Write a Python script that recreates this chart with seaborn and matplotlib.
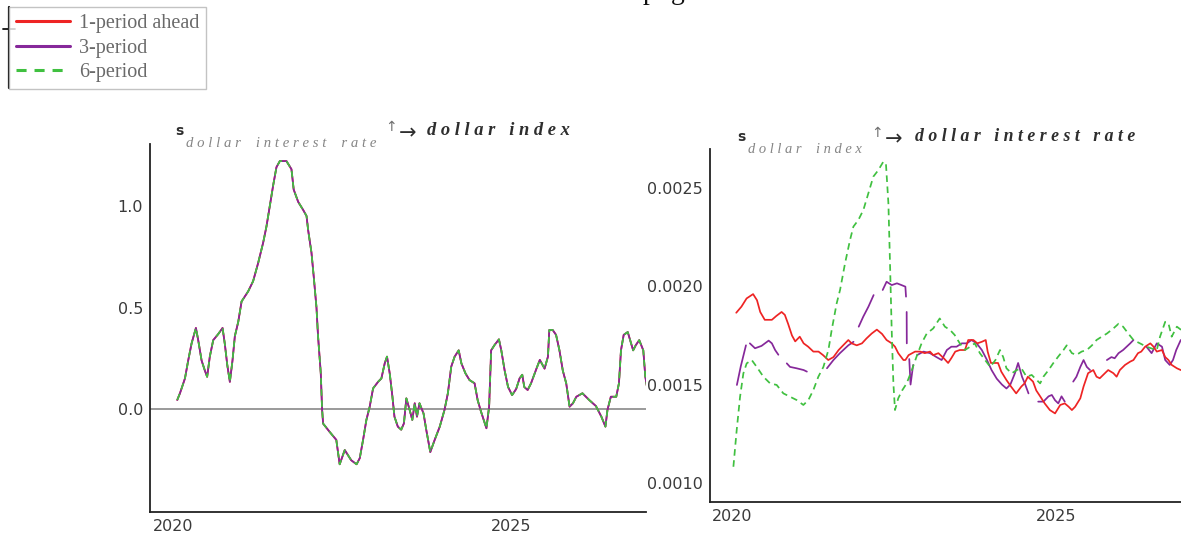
import matplotlib
matplotlib.use("Agg")
import pandas as pd
import matplotlib.pyplot as plt
import seaborn as sns
from matplotlib.lines import Line2D
from matplotlib.ticker import MultipleLocator

sns.set_style("white")
plt.rcParams["font.family"] = ["DejaVu Sans"]

W, H, DPI = 1181, 539, 100

# ---------------------------------------------------------------------------
# Spillover of a dollar-interest-rate shock onto the dollar index
# (1-, 3- and 6-period horizons coincide in this panel)
# ---------------------------------------------------------------------------
rate_to_index_years = [
    2020.068, 2020.108, 2020.182, 2020.231, 2020.280, 2020.344, 2020.378, 2020.428,
    2020.477, 2020.510, 2020.550, 2020.600, 2020.674, 2020.738, 2020.772, 2020.807,
    2020.846, 2020.885, 2020.920, 2020.970, 2021.019, 2021.117, 2021.190, 2021.265,
    2021.339, 2021.388, 2021.437, 2021.486, 2021.535, 2021.585, 2021.683, 2021.757,
    2021.790, 2021.856, 2021.930, 2021.980, 2022.004, 2022.053, 2022.087, 2022.127,
    2022.150, 2022.190, 2022.210, 2022.225, 2022.320, 2022.420, 2022.470, 2022.545,
    2022.640, 2022.720, 2022.767, 2022.816, 2022.865, 2022.914, 2022.964, 2023.040,
    2023.087, 2023.136, 2023.170, 2023.210, 2023.250, 2023.280, 2023.330, 2023.380,
    2023.420, 2023.456, 2023.505, 2023.544, 2023.580, 2023.613, 2023.650, 2023.710,
    2023.750, 2023.810, 2023.875, 2023.950, 2024.020, 2024.070, 2024.120, 2024.170,
    2024.230, 2024.270, 2024.330, 2024.390, 2024.465, 2024.510, 2024.560, 2024.640,
    2024.680, 2024.710, 2024.760, 2024.825, 2024.860, 2024.910, 2024.960, 2025.020,
    2025.080, 2025.130, 2025.170, 2025.200, 2025.250, 2025.300, 2025.380, 2025.430,
    2025.500, 2025.550, 2025.570, 2025.620, 2025.670, 2025.720, 2025.770, 2025.820,
    2025.870, 2025.920, 2025.970, 2026.060, 2026.160, 2026.260, 2026.340, 2026.400,
    2026.430, 2026.480, 2026.560, 2026.600, 2026.630, 2026.670, 2026.730, 2026.780,
    2026.810, 2026.850, 2026.900, 2026.960, 2026.990, 2027.020,
]
rate_to_index_values = [
    0.046, 0.079, 0.152, 0.242, 0.324, 0.400, 0.340, 0.240,
    0.190, 0.160, 0.260, 0.340, 0.370, 0.400, 0.320, 0.220,
    0.135, 0.240, 0.360, 0.430, 0.530, 0.580, 0.630, 0.720,
    0.820, 0.900, 1.000, 1.100, 1.190, 1.220, 1.220, 1.180,
    1.080, 1.020, 0.980, 0.950, 0.880, 0.770, 0.650, 0.500,
    0.360, 0.180, 0.000, -0.070, -0.110, -0.150, -0.270, -0.200,
    -0.250, -0.270, -0.240, -0.150, -0.052, 0.013, 0.103, 0.136,
    0.152, 0.226, 0.259, 0.177, 0.062, -0.036, -0.085, -0.100,
    -0.069, 0.054, -0.003, -0.052, 0.030, -0.036, 0.030, -0.020,
    -0.100, -0.210, -0.150, -0.085, -0.003, 0.079, 0.210, 0.259,
    0.290, 0.226, 0.177, 0.144, 0.128, 0.046, -0.011, -0.093,
    0.013, 0.290, 0.316, 0.344, 0.290, 0.190, 0.110, 0.070,
    0.100, 0.152, 0.170, 0.110, 0.095, 0.128, 0.200, 0.243,
    0.200, 0.259, 0.390, 0.390, 0.366, 0.290, 0.190, 0.128,
    0.013, 0.030, 0.062, 0.079, 0.046, 0.016, -0.036, -0.085,
    -0.003, 0.062, 0.062, 0.128, 0.290, 0.366, 0.380, 0.324,
    0.290, 0.316, 0.340, 0.290, 0.160, 0.100,
]

# ---------------------------------------------------------------------------
# Spillover of a dollar-index shock onto the dollar interest rate
# ---------------------------------------------------------------------------
index_to_rate_1_years = [
    2020.07, 2020.15, 2020.23, 2020.33, 2020.39, 2020.44, 2020.51, 2020.62,
    2020.69, 2020.77, 2020.82, 2020.87, 2020.93, 2020.98, 2021.05, 2021.11,
    2021.18, 2021.26, 2021.34, 2021.41, 2021.49, 2021.57, 2021.65, 2021.72,
    2021.80, 2021.85, 2021.93, 2022.01, 2022.08, 2022.16, 2022.24, 2022.32,
    2022.39, 2022.47, 2022.52, 2022.57, 2022.65, 2022.68, 2022.73, 2022.83,
    2022.91, 2022.98, 2023.06, 2023.11, 2023.19, 2023.27, 2023.34, 2023.39,
    2023.45, 2023.52, 2023.60, 2023.65, 2023.73, 2023.79, 2023.86, 2023.92,
    2023.95, 2024.00, 2024.11, 2024.16, 2024.24, 2024.31, 2024.39, 2024.47,
    2024.52, 2024.57, 2024.65, 2024.70, 2024.76, 2024.83, 2024.91, 2024.99,
    2025.07, 2025.14, 2025.20, 2025.25, 2025.30, 2025.38, 2025.43, 2025.50,
    2025.58, 2025.63, 2025.68, 2025.76, 2025.81, 2025.89, 2025.94, 2025.99,
    2026.07, 2026.15, 2026.20, 2026.27, 2026.32, 2026.38, 2026.46, 2026.51,
    2026.56, 2026.64, 2026.69, 2026.74, 2026.79, 2026.87, 2026.93, 2027.00,
]
index_to_rate_1_values = [
    0.001866, 0.001897, 0.001939, 0.001961, 0.001930, 0.001870, 0.001830, 0.001830,
    0.001850, 0.001870, 0.001855, 0.001810, 0.001750, 0.001720, 0.001744, 0.001710,
    0.001693, 0.001668, 0.001668, 0.001650, 0.001625, 0.001640, 0.001676, 0.001700,
    0.001727, 0.001710, 0.001700, 0.001710, 0.001735, 0.001760, 0.001780, 0.001758,
    0.001727, 0.001710, 0.001693, 0.001660, 0.001625, 0.001625, 0.001650, 0.001668,
    0.001668, 0.001660, 0.001668, 0.001650, 0.001660, 0.001635, 0.001610, 0.001635,
    0.001668, 0.001676, 0.001676, 0.001727, 0.001727, 0.001710, 0.001718, 0.001727,
    0.001668, 0.001610, 0.001610, 0.001566, 0.001523, 0.001490, 0.001455, 0.001490,
    0.001506, 0.001540, 0.001515, 0.001470, 0.001440, 0.001404, 0.001370, 0.001353,
    0.001396, 0.001404, 0.001387, 0.001370, 0.001387, 0.001430, 0.001490, 0.001558,
    0.001574, 0.001540, 0.001532, 0.001558, 0.001574, 0.001558, 0.001540, 0.001574,
    0.001600, 0.001617, 0.001625, 0.001660, 0.001668, 0.001693, 0.001710, 0.001693,
    0.001668, 0.001676, 0.001640, 0.001625, 0.001600, 0.001583, 0.001574, 0.001570,
]

# The 3-period series has missing stretches (None marks a break)
index_to_rate_3_years = [
    2020.08, 2020.14, 2020.22, None,
    2020.28, 2020.36, 2020.46, 2020.57, 2020.62, 2020.67, 2020.72, None,
    2020.85, 2020.90, 2021.00, 2021.11, 2021.16, None,
    2021.47, 2021.57, 2021.67, 2021.80, 2021.88, None,
    2021.96, 2022.03, 2022.11, 2022.19, None,
    2022.33, 2022.39, 2022.47, 2022.55, 2022.62, 2022.68, 2022.69, None,
    2022.700, 2022.702, None,
    2022.74, 2022.76, 2022.78, 2022.80, None,
    2022.86, 2022.96, 2023.06, 2023.16, 2023.24, 2023.32, 2023.39, 2023.47,
    2023.55, 2023.63, 2023.70, 2023.78, 2023.86, 2023.94, 2024.01, 2024.09,
    2024.17, 2024.24, 2024.30, 2024.37, 2024.42, 2024.48, 2024.53, 2024.58, None,
    2024.73, 2024.81, 2024.89, 2024.94, 2024.99, 2025.04, 2025.09, 2025.14, None,
    2025.27, 2025.32, 2025.38, 2025.43, 2025.48, 2025.53, None,
    2025.79, 2025.86, 2025.91, 2025.97, 2026.04, 2026.15, 2026.20, None,
    2026.40, 2026.48, 2026.56, 2026.64, 2026.69, 2026.76, 2026.81, 2026.86, 2026.93,
]
index_to_rate_3_values = [
    0.001498, 0.001593, 0.001700, None,
    0.001710, 0.001685, 0.001697, 0.001724, 0.001710, 0.001676, 0.001652, None,
    0.001608, 0.001590, 0.001583, 0.001574, 0.001566, None,
    0.001583, 0.001625, 0.001660, 0.001700, 0.001718, None,
    0.001795, 0.001846, 0.001897, 0.001956, None,
    0.001982, 0.002024, 0.002007, 0.002016, 0.002007, 0.001999, 0.001948, None,
    0.001870, 0.001710, None,
    0.001630, 0.001500, 0.001550, 0.001600, None,
    0.001650, 0.001668, 0.001660, 0.001640, 0.001625, 0.001676, 0.001693, 0.001693,
    0.001710, 0.001710, 0.001727, 0.001710, 0.001676, 0.001625, 0.001574, 0.001530,
    0.001500, 0.001480, 0.001500, 0.001557, 0.001610, 0.001540, 0.001500, 0.001455, None,
    0.001413, 0.001413, 0.001440, 0.001447, 0.001420, 0.001404, 0.001440, 0.001413, None,
    0.001515, 0.001540, 0.001590, 0.001625, 0.001590, 0.001574, None,
    0.001625, 0.001640, 0.001634, 0.001660, 0.001676, 0.001710, 0.001727, None,
    0.001693, 0.001660, 0.001710, 0.001693, 0.001625, 0.001600, 0.001625, 0.001676, 0.001727,
]

index_to_rate_6_years = [
    2020.026, 2020.077, 2020.129, 2020.180, 2020.231, 2020.309, 2020.386, 2020.489,
    2020.592, 2020.694, 2020.797, 2020.900, 2021.003, 2021.106, 2021.183, 2021.260,
    2021.337, 2021.415, 2021.492, 2021.543, 2021.620, 2021.672, 2021.749, 2021.826,
    2021.878, 2021.955, 2022.032, 2022.109, 2022.186, 2022.263, 2022.340, 2022.380,
    2022.418, 2022.443, 2022.469, 2022.495, 2022.520, 2022.570, 2022.630, 2022.700,
    2022.780, 2022.850, 2022.930, 2023.010, 2023.110, 2023.210, 2023.290, 2023.370,
    2023.440, 2023.520, 2023.600, 2023.680, 2023.750, 2023.830, 2023.910, 2023.990,
    2024.070, 2024.140, 2024.190, 2024.240, 2024.320, 2024.400, 2024.470, 2024.550,
    2024.630, 2024.680, 2024.760, 2024.810, 2024.890, 2024.960, 2025.040, 2025.120,
    2025.170, 2025.250, 2025.320, 2025.400, 2025.480, 2025.560, 2025.630, 2025.710,
    2025.790, 2025.890, 2025.970, 2026.040, 2026.120, 2026.200, 2026.300, 2026.400,
    2026.480, 2026.560, 2026.610, 2026.690, 2026.740, 2026.790, 2026.870, 2026.930,
    2027.000,
]
index_to_rate_6_values = [
    0.001081, 0.001268, 0.001438, 0.001557, 0.001608, 0.001625, 0.001590, 0.001540,
    0.001506, 0.001498, 0.001455, 0.001438, 0.001421, 0.001396, 0.001421, 0.001472,
    0.001540, 0.001590, 0.001676, 0.001778, 0.001914, 0.001982, 0.002118, 0.002237,
    0.002305, 0.002339, 0.002390, 0.002475, 0.002560, 0.002593, 0.002636, 0.002627,
    0.002424, 0.002118, 0.001778, 0.001506, 0.001370, 0.001430, 0.001470, 0.001506,
    0.001574, 0.001640, 0.001710, 0.001760, 0.001786, 0.001837, 0.001795, 0.001778,
    0.001753, 0.001710, 0.001676, 0.001693, 0.001710, 0.001660, 0.001625, 0.001590,
    0.001625, 0.001676, 0.001640, 0.001583, 0.001557, 0.001574, 0.001583, 0.001540,
    0.001549, 0.001532, 0.001506, 0.001540, 0.001574, 0.001608, 0.001643, 0.001676,
    0.001700, 0.001660, 0.001651, 0.001668, 0.001676, 0.001700, 0.001727, 0.001744,
    0.001760, 0.001786, 0.001810, 0.001795, 0.001760, 0.001727, 0.001710, 0.001693,
    0.001684, 0.001676, 0.001744, 0.001820, 0.001812, 0.001744, 0.001795, 0.001780,
    0.001760,
]

horizon_labels = ["1-period ahead", "3-period", "6-period"]
year_major = [2020, 2025]
year_minor = [2021, 2022, 2023, 2024, 2026, 2027]
left_yticks = [0.0, 0.5, 1.0]
right_yticks = [0.0010, 0.0015, 0.0020, 0.0025]

RED = "#ee2424"
PURPLE = "#86289a"
GREEN = "#40c040"
DASH = (0, (3.8, 2.6))
SERIF = ["Liberation Serif", "DejaVu Serif"]
INK = "#2e2e2e"

fig = plt.figure(figsize=(W / DPI, H / DPI), dpi=DPI)


def px_box(left, top, right, bottom):
    return [left / W, 1 - bottom / H, (right - left) / W, (bottom - top) / H]


ax_l = fig.add_axes(px_box(150, 144, 646, 511.7))
ax_r = fig.add_axes(px_box(710, 149.3, 1185.3, 501.7))


def to_frame(years, values):
    seg, rows = 0, []
    for x, y in zip(years, values):
        if y is None:
            seg += 1
            continue
        rows.append((x, y, seg))
    return pd.DataFrame(rows, columns=["year", "value", "seg"])


def draw(ax, years, values, color, ls="-", z=2):
    df = to_frame(years, values)
    sns.lineplot(data=df, x="year", y="value", units="seg", estimator=None,
                 sort=False, color=color, linewidth=1.25, linestyle=ls,
                 ax=ax, legend=False, zorder=z)


# left panel: the three horizons lie on top of each other
ax_l.axhline(0, color="#9a9a9a", lw=1.4, zorder=1)
draw(ax_l, rate_to_index_years, rate_to_index_values, RED, z=2)
draw(ax_l, rate_to_index_years, rate_to_index_values, PURPLE, z=3)
draw(ax_l, rate_to_index_years, rate_to_index_values, GREEN, ls=DASH, z=4)

# right panel
draw(ax_r, index_to_rate_1_years, index_to_rate_1_values, RED, z=3)
draw(ax_r, index_to_rate_3_years, index_to_rate_3_values, PURPLE, z=2)
draw(ax_r, index_to_rate_6_years, index_to_rate_6_values, GREEN, ls=DASH, z=4)


def style_axis(ax, yticks, ylabels, yminor, ylim):
    ax.set_xlim(2019.665, 2027.0)
    ax.set_ylim(*ylim)
    ax.set(xlabel="", ylabel="")
    for side in ("top", "right"):
        ax.spines[side].set_visible(False)
    for side in ("left", "bottom"):
        ax.spines[side].set_color("#222222")
        ax.spines[side].set_linewidth(1.3)
    ax.set_xticks(year_major, labels=[str(y) for y in year_major])
    ax.set_xticks(year_minor, minor=True)
    ax.set_yticks(yticks, labels=ylabels)
    ax.yaxis.set_minor_locator(MultipleLocator(yminor))
    ax.tick_params(which="both", direction="in", color="#222222", width=1.0,
                   labelsize=11.5, labelcolor="#3a3a3a", pad=5)
    ax.tick_params(which="major", length=7)
    ax.tick_params(which="minor", length=4)
    ax.set_facecolor("none")


style_axis(ax_l, left_yticks, [f"{v:.1f}" for v in left_yticks], 0.1, (-0.503, 1.304))
style_axis(ax_r, right_yticks, [f"{v:.4f}" for v in right_yticks], 0.0001, (0.000903, 0.002699))

renderer = fig.canvas.get_renderer()


def put(x, y, s, width=None, **kw):
    t = fig.text(x / W, 1 - y / H, s, ha="left", va="baseline", **kw)
    if width:
        w = t.get_window_extent(renderer).width
        t.set_fontsize(t.get_fontsize() * width / w)
    return t


def spaced(text, gap, word_gap):
    return word_gap.join(gap.join(word) for word in text.split(" "))


def panel_title(x_s, base, shock, target, sub_width, arrow_x, main_x, main_width):
    put(x_s, base, "s", fontsize=10, fontweight="bold", color=INK)
    put(x_s + 11, base + 12, spaced(shock, " ", "    "), width=sub_width,
        family=SERIF, style="italic", color="#858585", fontsize=10)
    put(arrow_x, base - 4, "\u2191", fontsize=10, color="#6f6f6f")
    put(arrow_x + 14, base + 4, "\u2192", fontsize=15, color=INK)
    put(main_x, base, spaced(target, " ", "   "), width=main_width, family=SERIF,
        style="italic", fontweight="bold", color=INK, fontsize=13)


panel_title(175, 135, "dollar interest rate", "dollar index", 190, 385, 427, 143)
panel_title(737, 141, "dollar index", "dollar interest rate", 115, 871, 915, 218)

# legend for the three forecast horizons
handles = [
    Line2D([], [], color=RED, lw=2.2),
    Line2D([], [], color=PURPLE, lw=2.2),
    Line2D([], [], color=GREEN, lw=2.2, linestyle=(0, (3.3, 2.6))),
]
leg = fig.legend(handles, horizon_labels, loc="upper left",
                 bbox_to_anchor=(8.5 / W, 1 - 7 / H), bbox_transform=fig.transFigure,
                 frameon=True, fancybox=False, edgecolor="#b4b4b4",
                 borderaxespad=0, borderpad=0.35, handlelength=2.7,
                 handletextpad=0.45, labelspacing=0.27,
                 prop={"family": SERIF, "size": 14.5})
leg.get_frame().set_linewidth(1.0)
for t in leg.get_texts():
    t.set_color("#6a6a6a")
fig.add_artist(Line2D([9.5 / W, 9.5 / W], [1 - 7 / H, 1 - 88 / H],
                      color="#111111", lw=1.6, transform=fig.transFigure))
fig.add_artist(Line2D([3 / W, 15 / W], [1 - 29 / H, 1 - 29 / H],
                      color="#111111", lw=1.3, transform=fig.transFigure))

# descenders of a caption line that runs above the figure
fig.text(643 / W, 1 + 1 / H, "p  g", fontsize=20, family=SERIF, color="#111111",
         ha="left", va="baseline")

fig.savefig("out.png", dpi=DPI)
